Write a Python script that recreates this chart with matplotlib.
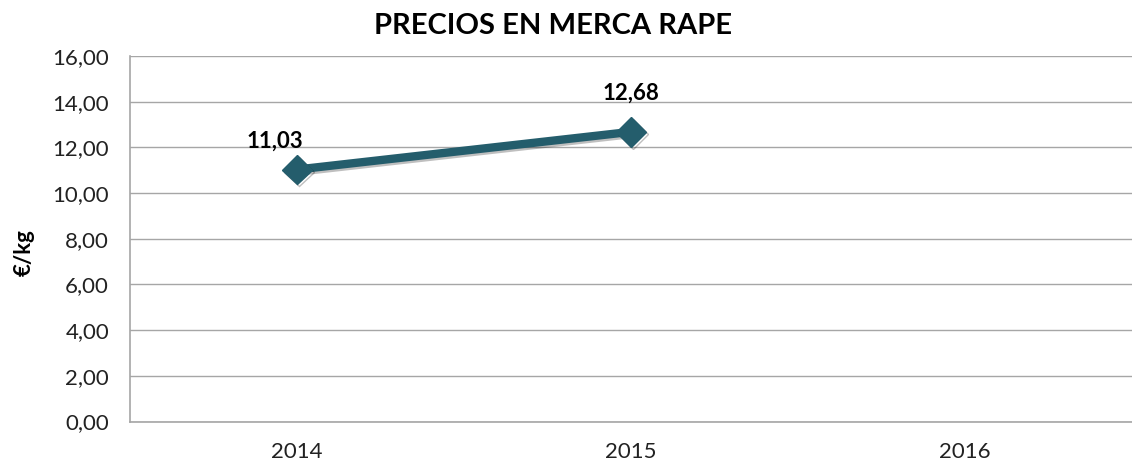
import numpy as np
import matplotlib.pyplot as plt
import matplotlib.patheffects as pe

plt.rcParams['font.family'] = ['Lato', 'DejaVu Sans']

years = ['2014', '2015', '2016']
prices = [11.03, 12.68]
labels = ['11,03', '12,68']
yticks = np.arange(0, 17, 2)

line_color = '#245D6C'
grid_color = '#A6A6A6'

fig = plt.figure(figsize=(11.32, 4.65), dpi=100)
ax = fig.add_axes([0.1148, 0.0935, 0.8852, 0.7861])

x = np.arange(len(prices))
ax.plot(x, prices, color=line_color, lw=6, marker='D', markersize=15,
        solid_capstyle='round', zorder=3,
        path_effects=[pe.SimpleLineShadow(offset=(1.5, -1.5), alpha=0.25), pe.Normal()])

# label offsets in points (first one sits left of the point, like Excel did)
offsets = [(-16, 13), (0, 20)]
for xi, yi, lab, off in zip(x, prices, labels, offsets):
    ax.annotate(lab, (xi, yi), xytext=off, textcoords='offset points',
                fontsize=16, fontweight='bold', ha='center', va='bottom')

ax.set_xlim(-0.5, len(years) - 0.5)
ax.set_ylim(0, 16)
ax.set_xticks(np.arange(len(years)))
ax.set_xticklabels(years)
ax.set_yticks(yticks)
ax.set_yticklabels([f'{v:.2f}'.replace('.', ',') for v in yticks])
ax.tick_params(length=0, labelsize=16, colors='#222222')
ax.tick_params(axis='y', pad=15)
ax.tick_params(axis='x', pad=15)

ax.grid(axis='y', color=grid_color, lw=1)
ax.set_axisbelow(True)
for s in ['top', 'right']:
    ax.spines[s].set_visible(False)
for s in ['left', 'bottom']:
    ax.spines[s].set_color(grid_color)
    ax.spines[s].set_linewidth(1.2)

fig.text(0.021, 0.456, '€/kg', fontsize=16, fontweight='bold', rotation=90,
         ha='center', va='center')
fig.text(0.4885, 0.945, 'PRECIOS EN MERCA RAPE', fontsize=21, fontweight='bold',
         ha='center', va='center')

fig.savefig('out.png', dpi=100)
